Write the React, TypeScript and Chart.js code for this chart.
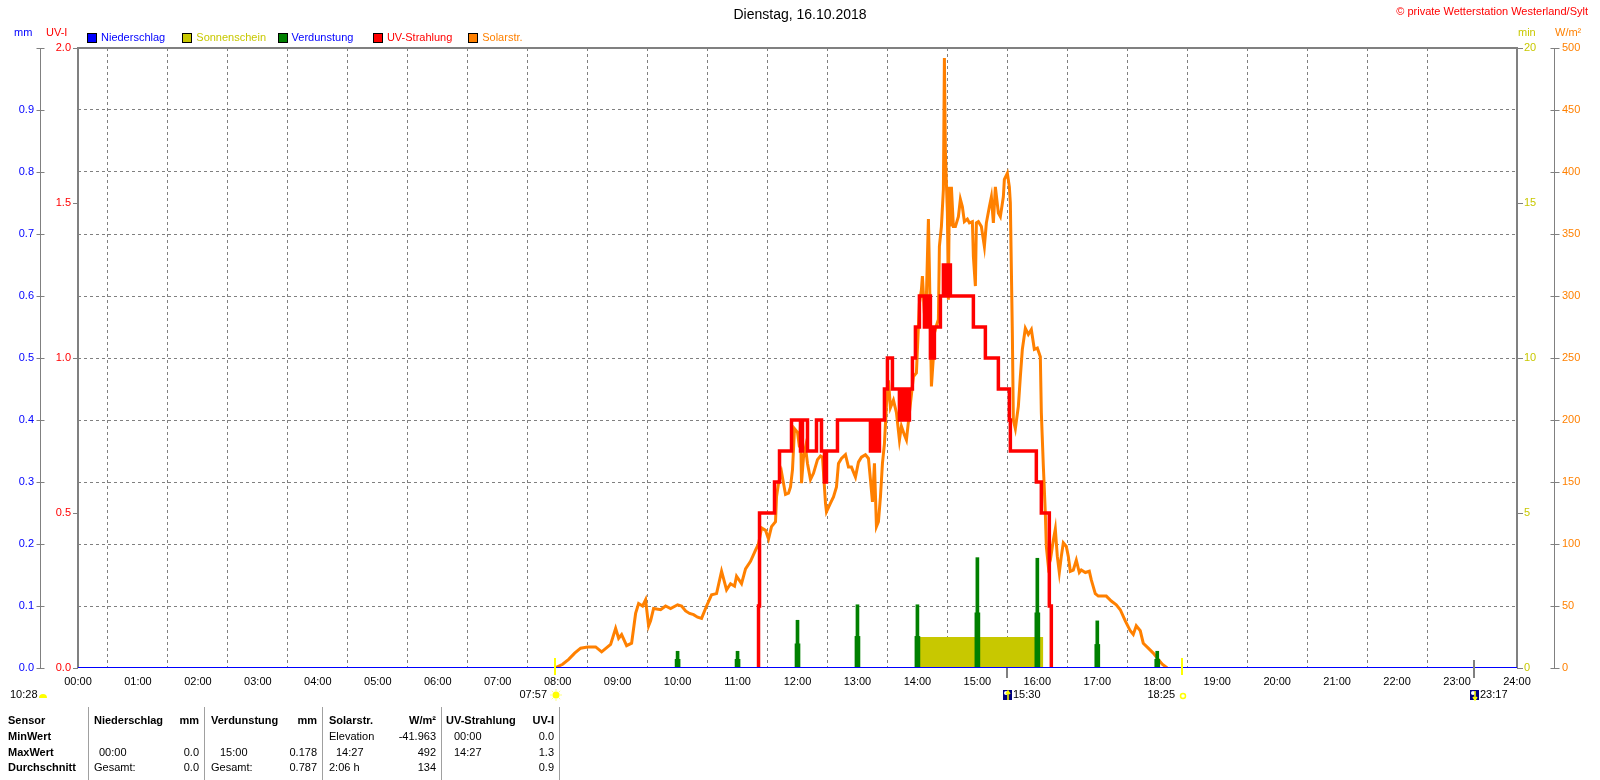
import React, { useEffect, useRef } from "react";
import { Chart, registerables } from "chart.js";

Chart.register(...registerables);

const FONT = "'Liberation Sans', Arial, Helvetica, sans-serif";

const chartTitle = "Dienstag, 16.10.2018";
const copyrightText = "© private Wetterstation Westerland/Sylt";

const hourTickLabels = [
  "00:00", "01:00", "02:00", "03:00", "04:00", "05:00", "06:00", "07:00", "08:00",
  "09:00", "10:00", "11:00", "12:00", "13:00", "14:00", "15:00", "16:00", "17:00",
  "18:00", "19:00", "20:00", "21:00", "22:00", "23:00", "24:00",
];
const mmTickLabels = ["0.0", "0.1", "0.2", "0.3", "0.4", "0.5", "0.6", "0.7", "0.8", "0.9", ""];
const uvTickLabels = ["0.0", "0.5", "1.0", "1.5", "2.0"];
const minTickLabels = ["0", "5", "10", "15", "20"];
const wTickLabels = ["0", "50", "100", "150", "200", "250", "300", "350", "400", "450", "500"];

const legendLabels = ["Niederschlag", "Sonnenschein", "Verdunstung", "UV-Strahlung", "Solarstr."];
const legendBoxColors = ["#0000ff", "#c8c800", "#008000", "#ff0000", "#ff8000"];
const legendTextColors = ["#0000ff", "#c8c800", "#0000ff", "#ff0000", "#ff8000"];

const rainTimes = ["00:00", "24:00"];
const rainValues = [0, 0];

const sunshineTimes = ["14:00", "16:06"];
const sunshineValues = [1, 1];

const evapTimes = ["10:00", "11:00", "12:00", "13:00", "14:00", "15:00", "16:00", "17:00", "18:00"];
const evapValues = [0.027, 0.027, 0.077, 0.102, 0.102, 0.178, 0.177, 0.076, 0.027];
const evapShoulderValues = [0.014, 0.014, 0.039, 0.051, 0.051, 0.089, 0.089, 0.038, 0.014];

const uvTimes = [
  "11:20", "11:21", "11:22", "11:37", "11:42", "11:54", "12:03", "12:05", "12:10", "12:19",
  "12:24", "12:27", "12:29", "12:40", "13:13", "13:15", "13:16", "13:18", "13:19", "13:22",
  "13:27", "13:30", "13:35", "13:42", "13:44", "13:46", "13:48", "13:50", "13:52", "13:55",
  "13:58", "14:02", "14:07", "14:08", "14:09", "14:10", "14:13", "14:15", "14:16", "14:17",
  "14:23", "14:26", "14:28", "14:29", "14:30", "14:32", "14:33", "14:56", "15:08", "15:21",
  "15:32", "15:33", "15:59", "16:04", "16:12", "16:14",
];
const uvValues = [
  0, 0.2, 0.5, 0.6, 0.7, 0.8, 0.7, 0.8, 0.7, 0.8,
  0.7, 0.6, 0.7, 0.8, 0.7, 0.8, 0.7, 0.8, 0.7, 0.8,
  0.9, 1.0, 0.9, 0.8, 0.9, 0.8, 0.9, 0.8, 0.9, 1.0,
  1.1, 1.2, 1.1, 1.2, 1.1, 1.2, 1.0, 1.1, 1.0, 1.1,
  1.2, 1.3, 1.2, 1.3, 1.2, 1.3, 1.2, 1.1, 1.0, 0.9,
  0.8, 0.7, 0.6, 0.5, 0.2, 0,
];

const solarTimes = [
  "07:57", "08:05", "08:11", "08:17", "08:23", "08:30", "08:38", "08:44", "08:50", "08:53",
  "08:58", "09:01", "09:04", "09:09", "09:14", "09:18", "09:21", "09:25", "09:28", "09:31",
  "09:33", "09:36", "09:43", "09:48", "09:53", "10:00", "10:04", "10:08", "10:12", "10:16",
  "10:20", "10:24", "10:29", "10:34", "10:39", "10:44", "10:46", "10:49", "10:53", "10:57",
  "10:59", "11:04", "11:08", "11:13", "11:18", "11:21", "11:24", "11:28", "11:31", "11:34",
  "11:38", "11:39", "11:41", "11:44", "11:48", "11:51", "11:53", "11:55", "11:57", "12:00",
  "12:02", "12:03", "12:04", "12:06", "12:08", "12:10", "12:13", "12:16", "12:20", "12:23",
  "12:25", "12:28", "12:29", "12:33", "12:36", "12:39", "12:41", "12:44", "12:48", "12:51",
  "12:54", "12:58", "13:01", "13:04", "13:08", "13:11", "13:13", "13:15", "13:17", "13:19",
  "13:21", "13:23", "13:25", "13:27", "13:29", "13:31", "13:33", "13:36", "13:39", "13:42",
  "13:44", "13:47", "13:49", "13:52", "13:56", "13:59", "14:01", "14:02", "14:04", "14:05",
  "14:07", "14:09", "14:11", "14:12", "14:14", "14:16", "14:17", "14:19", "14:21", "14:22",
  "14:24", "14:26", "14:27", "14:28", "14:30", "14:31", "14:32", "14:33", "14:34", "14:36",
  "14:38", "14:41", "14:43", "14:45", "14:47", "14:50", "14:52", "14:55", "14:56", "14:58",
  "14:59", "15:01", "15:04", "15:07", "15:09", "15:12", "15:14", "15:16", "15:18", "15:21",
  "15:23", "15:26", "15:27", "15:30", "15:32", "15:33", "15:35", "15:36", "15:38", "15:41",
  "15:43", "15:45", "15:48", "15:51", "15:54", "15:57", "16:00", "16:03", "16:04", "16:06",
  "16:08", "16:09", "16:11", "16:13", "16:16", "16:18", "16:20", "16:22", "16:24", "16:26",
  "16:29", "16:31", "16:33", "16:36", "16:39", "16:42", "16:44", "16:48", "16:52", "16:54",
  "16:58", "17:01", "17:09", "17:14", "17:19", "17:23", "17:28", "17:33", "17:36", "17:39",
  "17:43", "17:46", "17:51", "17:56", "18:00", "18:05", "18:10",
];
const solarValues = [
  0, 3, 7, 12, 16, 17, 17, 13, 17, 19,
  32, 24, 27, 18, 20, 44, 52, 50, 55, 34,
  38, 48, 47, 50, 48, 51, 50, 46, 44, 43,
  41, 40, 50, 59, 60, 78, 72, 63, 68, 66,
  74, 68, 80, 86, 95, 100, 113, 111, 104, 114,
  118, 138, 149, 158, 140, 141, 146, 160, 193, 190,
  178, 197, 149, 170, 178, 165, 152, 157, 168, 171,
  170, 133, 126, 133, 138, 146, 165, 169, 172, 162,
  162, 154, 166, 170, 172, 169, 152, 134, 165, 114,
  118, 138, 165, 181, 212, 232, 210, 216, 206, 184,
  195, 188, 184, 206, 235, 238, 276, 294, 305, 316,
  286, 300, 362, 321, 227, 251, 270, 276, 281, 340,
  356, 386, 492, 415, 367, 297, 388, 356, 388, 356,
  356, 364, 378, 372, 360, 362, 359, 360, 332, 308,
  359, 360, 356, 340, 359, 372, 380, 359, 388, 367,
  364, 380, 394, 399, 388, 375, 270, 200, 193, 211,
  235, 257, 274, 269, 273, 257, 258, 251, 206, 163,
  125, 98, 82, 87, 103, 112, 90, 77, 90, 101,
  98, 90, 78, 79, 87, 77, 79, 77, 78, 71,
  60, 58, 58, 54, 51, 47, 38, 30, 27, 34,
  30, 20, 16, 12, 8, 3, 0,
];

const eventTimes = ["07:57", "15:30", "18:25", "23:17"];
const eventKinds = ["sunrise", "moonrise", "sunset", "moonset"];
const dayLengthText = "10:28";

const tableHeader = ["Sensor", "Niederschlag", "mm", "Verdunstung", "mm", "Solarstr.", "W/m²", "UV-Strahlung", "UV-I"];
const tableRowLabels = ["MinWert", "MaxWert", "Durchschnitt"];
const rainStats = [["", ""], ["00:00", "0.0"], ["Gesamt:", "0.0"]];
const evapStats = [["", ""], ["15:00", "0.178"], ["Gesamt:", "0.787"]];
const solarStats = [["Elevation", "-41.963"], ["14:27", "492"], ["2:06 h", "134"]];
const uvStats = [["00:00", "0.0"], ["14:27", "1.3"], ["", "0.9"]];

function hm(s: string): number {
  const [h, m] = s.split(":").map(Number);
  return h + m / 60;
}
function pts(times: string[], values: number[]) {
  return times.map((t, i) => ({ x: hm(t), y: values[i] }));
}
const isEdge = (v: number, lo: number, hi: number) => Math.abs(v - lo) < 1e-6 || Math.abs(v - hi) < 1e-6;

const decorPlugin = {
  id: "decor",
  beforeDatasetsDraw(chart: any) {
    const { ctx, chartArea: a, scales } = chart;
    ctx.save();
    ctx.setLineDash([]);
    ctx.strokeStyle = "#808080";
    ctx.lineWidth = 1;
    const mmX = Math.round(scales.yMM.right) + 0.5;
    const wX = Math.round(scales.yW.left) + 0.5;
    ctx.beginPath();
    ctx.moveTo(mmX, a.top);
    ctx.lineTo(mmX, a.bottom + 1);
    ctx.moveTo(wX, a.top);
    ctx.lineTo(wX, a.bottom + 1);
    scales.yMM.ticks.forEach((_t: any, i: number) => {
      const y = Math.round(scales.yMM.getPixelForTick(i)) + 0.5;
      ctx.moveTo(mmX - 4, y);
      ctx.lineTo(mmX + 4, y);
    });
    scales.yW.ticks.forEach((_t: any, i: number) => {
      const y = Math.round(scales.yW.getPixelForTick(i)) + 0.5;
      ctx.moveTo(wX - 4, y);
      ctx.lineTo(wX + 5, y);
    });
    scales.yUV.ticks.forEach((_t: any, i: number) => {
      const y = Math.round(scales.yUV.getPixelForTick(i)) + 0.5;
      ctx.moveTo(a.left - 5, y);
      ctx.lineTo(a.left, y);
    });
    scales.yMin.ticks.forEach((_t: any, i: number) => {
      const y = Math.round(scales.yMin.getPixelForTick(i)) + 0.5;
      ctx.moveTo(a.right, y);
      ctx.lineTo(a.right + 6, y);
    });
    ctx.stroke();
    ctx.lineWidth = 2;
    ctx.beginPath();
    ctx.moveTo(a.left, a.bottom);
    ctx.lineTo(a.left, a.top);
    ctx.lineTo(a.right, a.top);
    ctx.lineTo(a.right, a.bottom);
    ctx.stroke();
    ctx.restore();
  },
  afterDatasetsDraw(chart: any) {
    const { ctx, chartArea: a, scales } = chart;
    ctx.save();
    ctx.setLineDash([]);
    eventTimes.forEach((t, i) => {
      const x = Math.round(scales.x.getPixelForValue(hm(t)));
      const kind = eventKinds[i];
      ctx.lineWidth = 2;
      if (kind === "sunrise" || kind === "sunset") {
        ctx.strokeStyle = "#ffff00";
        ctx.beginPath();
        ctx.moveTo(x, a.bottom - 10);
        ctx.lineTo(x, a.bottom + 7);
        ctx.stroke();
      } else {
        ctx.strokeStyle = "#808080";
        ctx.beginPath();
        ctx.moveTo(x, a.bottom - (kind === "moonset" ? 8 : 0));
        ctx.lineTo(x, a.bottom + 10);
        ctx.stroke();
      }
    });
    ctx.restore();
  },
  afterDraw(chart: any) {
    const { ctx, chartArea: a, scales } = chart;
    ctx.save();
    ctx.setLineDash([]);
    ctx.textBaseline = "middle";
    // title
    ctx.font = `14px ${FONT}`;
    ctx.fillStyle = "#000000";
    ctx.textAlign = "center";
    ctx.fillText(chartTitle, 800, 15);
    // copyright
    ctx.font = `11px ${FONT}`;
    ctx.fillStyle = "#ff0000";
    ctx.textAlign = "right";
    ctx.fillText(copyrightText, 1588, 12);
    // unit labels
    ctx.textAlign = "left";
    ctx.fillStyle = "#0000ff";
    ctx.fillText("mm", 14, 33);
    ctx.fillStyle = "#ff0000";
    ctx.fillText("UV-I", 46, 33);
    ctx.fillStyle = "#c8c800";
    ctx.fillText("min", a.right + 1, 33);
    ctx.fillStyle = "#ff8000";
    ctx.fillText("W/m²", scales.yW.left + 1, 33);
    // legend
    legendLabels.forEach((lab, i) => {
      const x0 = 87 + i * 95.3;
      ctx.fillStyle = legendBoxColors[i];
      ctx.fillRect(Math.round(x0), 33, 10, 10);
      ctx.strokeStyle = "#000000";
      ctx.lineWidth = 1;
      ctx.strokeRect(Math.round(x0) + 0.5, 33.5, 9, 9);
      ctx.fillStyle = legendTextColors[i];
      ctx.fillText(lab, x0 + 14, 38);
    });
    // events below x axis
    const ey = 695;
    ctx.font = `11px ${FONT}`;
    ctx.fillStyle = "#000000";
    ctx.textAlign = "left";
    ctx.fillText(dayLengthText, 10, ey);
    ctx.fillStyle = "#ffff00";
    ctx.beginPath();
    ctx.arc(43, ey + 3, 4, Math.PI, 0);
    ctx.closePath();
    ctx.fill();
    eventTimes.forEach((t, i) => {
      const x = Math.round(scales.x.getPixelForValue(hm(t)));
      const kind = eventKinds[i];
      ctx.fillStyle = "#000000";
      if (kind === "sunrise") {
        ctx.textAlign = "right";
        ctx.fillText(t, x - 8, ey);
        ctx.strokeStyle = "#ffff80";
        ctx.lineWidth = 1;
        ctx.beginPath();
        for (let k = 0; k < 8; k++) {
          const ang = (k * Math.PI) / 4;
          ctx.moveTo(x + 1 + Math.cos(ang) * 4, ey + Math.sin(ang) * 4);
          ctx.lineTo(x + 1 + Math.cos(ang) * 6, ey + Math.sin(ang) * 6);
        }
        ctx.stroke();
        ctx.fillStyle = "#ffff00";
        ctx.beginPath();
        ctx.arc(x + 1, ey, 3.5, 0, Math.PI * 2);
        ctx.fill();
      } else if (kind === "sunset") {
        ctx.textAlign = "right";
        ctx.fillText(t, x - 7, ey);
        ctx.strokeStyle = "#ffff00";
        ctx.lineWidth = 1.5;
        ctx.beginPath();
        ctx.arc(x + 1, ey + 1, 2.5, 0, Math.PI * 2);
        ctx.stroke();
      } else {
        ctx.fillStyle = "#000080";
        ctx.fillRect(x - 4, ey - 5, 9, 10);
        ctx.fillStyle = "#ffffff";
        ctx.beginPath();
        ctx.arc(x - 1, ey - 2, 2, 0, Math.PI * 2);
        ctx.fill();
        ctx.strokeStyle = "#ffff00";
        ctx.lineWidth = 1.5;
        ctx.beginPath();
        ctx.moveTo(x + 1, ey - 4);
        ctx.lineTo(x + 1, ey + 5);
        if (kind === "moonrise") {
          ctx.moveTo(x - 1, ey - 1);
          ctx.lineTo(x + 1, ey - 4);
          ctx.lineTo(x + 3, ey - 1);
        } else {
          ctx.moveTo(x - 1, ey + 2);
          ctx.lineTo(x + 1, ey + 5);
          ctx.lineTo(x + 3, ey + 2);
        }
        ctx.stroke();
        ctx.fillStyle = "#000000";
        ctx.textAlign = "left";
        ctx.fillText(t, x + 6, ey);
      }
    });
    ctx.restore();
  },
};

function StatsTable() {
  const sensorX = 8;
  const groupLeft = [94, 211, 329, 446];
  const groupTimeLeft = [99, 220, 336, 454];
  const groupRight = [199, 317, 436, 554];
  const separators = [88, 204, 322, 441, 559];
  const rowY = [720, 736, 752, 767];
  const groups = [rainStats, evapStats, solarStats, uvStats];
  const cells: React.ReactNode[] = [];
  const cell = (key: string, text: string, x: number, y: number, right: boolean, bold: boolean) => (
    <span
      key={key}
      style={{
        position: "absolute",
        left: x,
        top: y - 7,
        transform: right ? "translateX(-100%)" : undefined,
        fontWeight: bold ? "bold" : "normal",
        fontSize: 11,
        lineHeight: "14px",
        whiteSpace: "nowrap",
        color: "#000",
        fontFamily: FONT,
      }}
    >
      {text}
    </span>
  );
  cells.push(cell("h0", tableHeader[0], sensorX, rowY[0], false, true));
  for (let g = 0; g < 4; g++) {
    cells.push(cell(`hn${g}`, tableHeader[1 + g * 2], groupLeft[g], rowY[0], false, true));
    cells.push(cell(`hu${g}`, tableHeader[2 + g * 2], groupRight[g], rowY[0], true, true));
  }
  tableRowLabels.forEach((lab, r) => {
    cells.push(cell(`r${r}`, lab, sensorX, rowY[r + 1], false, true));
    groups.forEach((grp, g) => {
      const [txt, val] = grp[r];
      if (txt) {
        const isTime = /^\d\d:\d\d$/.test(txt);
        cells.push(cell(`t${r}${g}`, txt, isTime ? groupTimeLeft[g] : groupLeft[g], rowY[r + 1], false, false));
      }
      if (val) cells.push(cell(`v${r}${g}`, val, groupRight[g], rowY[r + 1], true, false));
    });
  });
  return (
    <>
      {separators.map((x, i) => (
        <div key={`s${i}`} style={{ position: "absolute", left: x, top: 707, width: 1, height: 73, background: "#a0a0a0" }} />
      ))}
      {cells}
    </>
  );
}

export default function App() {
  const ref = useRef<HTMLCanvasElement>(null);
  useEffect(() => {
    if (!ref.current) return;
    const tickFont = { family: FONT, size: 11 };
    const chart = new Chart(ref.current, {
      type: "line",
      data: {
        datasets: [
          {
            type: "line",
            label: "Niederschlag",
            data: pts(rainTimes, rainValues),
            yAxisID: "yMM",
            borderColor: "#0000ff",
            borderWidth: 2,
            pointRadius: 0,
            order: 1,
          },
          {
            type: "bar",
            label: "Verdunstung",
            data: pts(evapTimes, evapValues),
            yAxisID: "yMM",
            backgroundColor: "#008000",
            barThickness: 3,
            grouped: false,
            order: 2,
          } as any,
          {
            type: "bar",
            label: "Verdunstung2",
            data: pts(evapTimes, evapShoulderValues),
            yAxisID: "yMM",
            backgroundColor: "#008000",
            barThickness: 5,
            grouped: false,
            order: 2,
          } as any,
          {
            type: "line",
            label: "UV-Strahlung",
            data: pts(uvTimes, uvValues),
            yAxisID: "yUV",
            borderColor: "#ff0000",
            borderWidth: 3.5,
            stepped: true,
            pointRadius: 0,
            order: 3,
          },
          {
            type: "line",
            label: "Solarstr.",
            data: pts(solarTimes, solarValues),
            yAxisID: "yW",
            borderColor: "#ff8000",
            borderWidth: 3,
            tension: 0,
            pointRadius: 0,
            order: 4,
          },
          {
            type: "line",
            label: "Sonnenschein",
            data: pts(sunshineTimes, sunshineValues),
            yAxisID: "yMin",
            borderColor: "#c8c800",
            borderWidth: 0,
            backgroundColor: "#c8c800",
            fill: "origin",
            stepped: true,
            pointRadius: 0,
            order: 5,
          },
        ],
      },
      options: {
        responsive: false,
        animation: false,
        events: [],
        layout: { padding: { top: 48, left: 0, right: 0, bottom: 0 } },
        plugins: { legend: { display: false }, title: { display: false }, tooltip: { enabled: false } },
        scales: {
          x: {
            type: "linear",
            min: 0,
            max: 24,
            offset: false,
            position: "bottom",
            ticks: {
              stepSize: 1,
              autoSkip: false,
              maxRotation: 0,
              color: "#000000",
              font: tickFont,
              padding: 7,
              callback: (_v: any, i: number) => hourTickLabels[i],
            },
            grid: {
              drawTicks: false,
              lineWidth: 1,
              color: (c: any) => (c.tick && isEdge(c.tick.value, 0, 24) ? "rgba(0,0,0,0)" : "#808080"),
            },
            border: { display: false, dash: [3, 3] },
            afterFit: (s: any) => {
              s.height = 112;
            },
          },
          yMM: {
            type: "linear",
            position: "left",
            weight: 1,
            min: 0,
            max: 1,
            ticks: {
              stepSize: 0.1,
              color: "#0000ff",
              font: tickFont,
              padding: 6,
              callback: (_v: any, i: number) => mmTickLabels[i],
            },
            grid: {
              drawTicks: false,
              lineWidth: 1,
              color: (c: any) => (c.tick && isEdge(c.tick.value, 0, 1) ? "rgba(0,0,0,0)" : "#808080"),
            },
            border: { display: false, dash: [3, 3] },
            afterFit: (s: any) => {
              s.width = 40;
            },
          },
          yUV: {
            type: "linear",
            position: "left",
            weight: 0,
            min: 0,
            max: 2,
            ticks: {
              stepSize: 0.5,
              color: "#ff0000",
              font: tickFont,
              padding: 7,
              callback: (_v: any, i: number) => uvTickLabels[i],
            },
            grid: { display: false, drawTicks: false },
            border: { display: false },
            afterFit: (s: any) => {
              s.width = 38;
            },
          },
          yMin: {
            type: "linear",
            position: "right",
            weight: 0,
            min: 0,
            max: 20,
            ticks: {
              stepSize: 5,
              color: "#c8c800",
              font: tickFont,
              padding: 7,
              callback: (_v: any, i: number) => minTickLabels[i],
            },
            grid: { display: false, drawTicks: false },
            border: { display: false },
            afterFit: (s: any) => {
              s.width = 37;
            },
          },
          yW: {
            type: "linear",
            position: "right",
            weight: 1,
            min: 0,
            max: 500,
            ticks: {
              stepSize: 50,
              color: "#ff8000",
              font: tickFont,
              padding: 8,
              callback: (_v: any, i: number) => wTickLabels[i],
            },
            grid: { display: false, drawTicks: false },
            border: { display: false },
            afterFit: (s: any) => {
              s.width = 46;
            },
          },
        },
      } as any,
      plugins: [decorPlugin],
    });
    return () => chart.destroy();
  }, []);

  return (
    <div
      style={{
        position: "absolute",
        left: 0,
        top: 0,
        width: 1600,
        height: 780,
        background: "#ffffff",
        overflow: "hidden",
        fontFamily: FONT,
      }}
    >
      <canvas ref={ref} width={1600} height={780} style={{ position: "absolute", left: 0, top: 0, width: 1600, height: 780 }} />
      <StatsTable />
    </div>
  );
}
